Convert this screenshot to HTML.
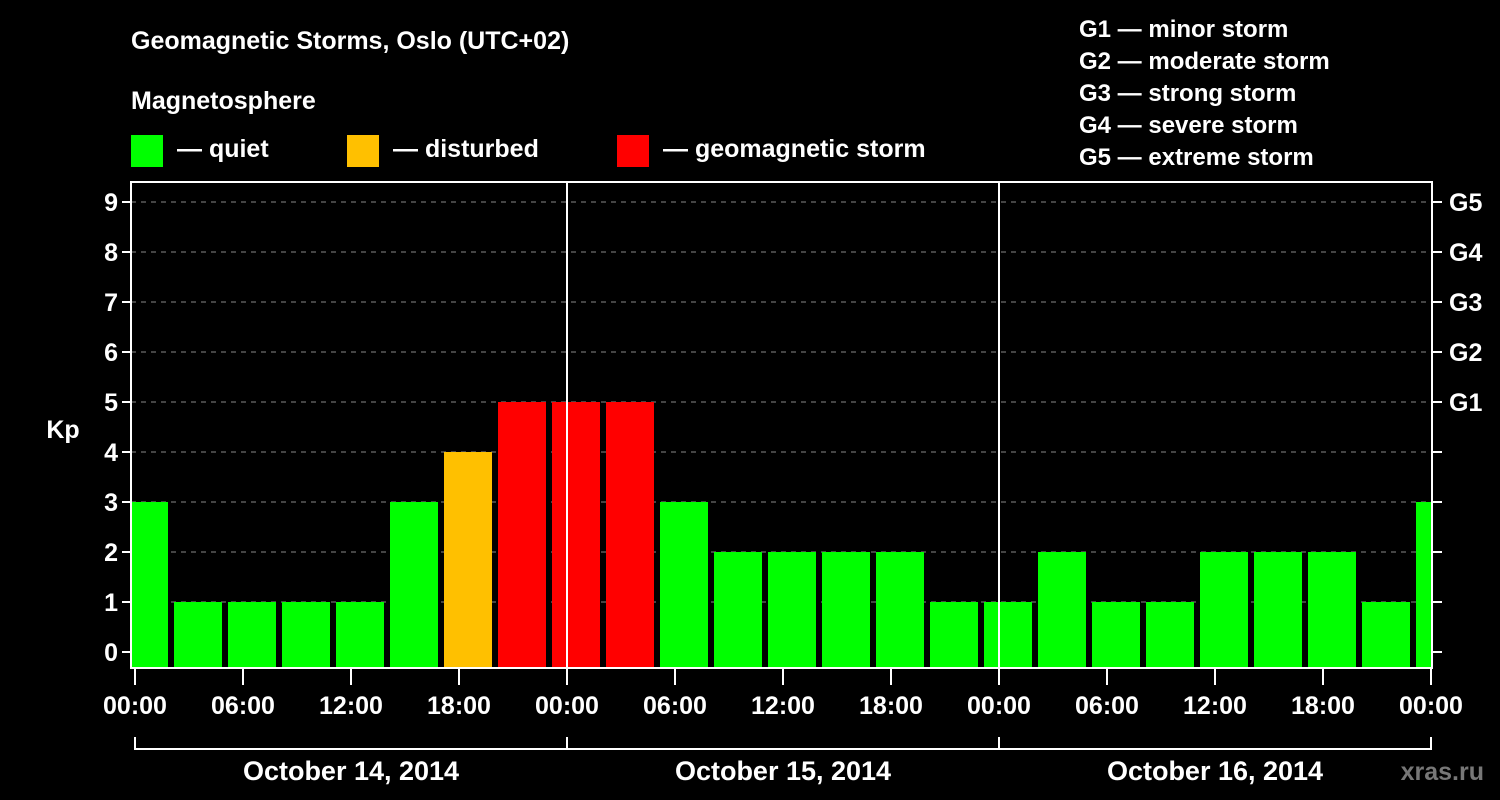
<!DOCTYPE html>
<html><head><meta charset="utf-8"><style>
html,body{margin:0;padding:0;background:#000;}
svg{display:block;font-family:"Liberation Sans",Arial,sans-serif;font-weight:bold;}
</style></head><body>
<svg id="chart" width="1500" height="800" viewBox="0 0 1500 800">
<rect width="1500" height="800" fill="#000"/>
<text x="131" y="49" fill="#fff" font-size="25">Geomagnetic Storms, Oslo (UTC+02)</text>
<text x="131" y="109" fill="#fff" font-size="25">Magnetosphere</text>
<g>
<rect x="131" y="135" width="32" height="32" fill="#00ff00"/>
<text x="177" y="157" fill="#fff" font-size="25">— quiet</text>
<rect x="347" y="135" width="32" height="32" fill="#ffc000"/>
<text x="393" y="157" fill="#fff" font-size="25">— disturbed</text>
<rect x="617" y="135" width="32" height="32" fill="#ff0000"/>
<text x="663" y="157" fill="#fff" font-size="25">— geomagnetic storm</text>
</g>
<g fill="#fff" font-size="24">
<text x="1079" y="37">G1 — minor storm</text>
<text x="1079" y="69">G2 — moderate storm</text>
<text x="1079" y="101">G3 — strong storm</text>
<text x="1079" y="133">G4 — severe storm</text>
<text x="1079" y="165">G5 — extreme storm</text>
</g>
<g id="grid"></g>
<g id="bars"></g>
<g id="axes"></g>
<text x="63" y="438" fill="#fff" font-size="25" text-anchor="middle">Kp</text>
<text x="1484" y="780" fill="#777" font-size="25" text-anchor="end">xras.ru</text>
</svg>
<script>
const kpValues = [3,1,1,1,1,3,4,5,5,5,3,2,2,2,2,1,1,2,1,1,2,2,2,1,3];
const yTicks = [0,1,2,3,4,5,6,7,8,9];
const gLabels = ["G1","G2","G3","G4","G5"];
const timeLabels = ["00:00","06:00","12:00","18:00","00:00","06:00","12:00","18:00","00:00","06:00","12:00","18:00","00:00"];
const dayLabels = ["October 14, 2014","October 15, 2014","October 16, 2014"];
const NS="http://www.w3.org/2000/svg";
const L=131,R=1432,T=182,B=668,X0=135,PXH=18;
const x=h=>X0+h*PXH, y=k=>652-50*k;
function mk(tag,attrs,parent){const e=document.createElementNS(NS,tag);for(const k in attrs)e.setAttribute(k,attrs[k]);parent.appendChild(e);return e;}
const grid=document.getElementById('grid'),bars=document.getElementById('bars'),axes=document.getElementById('axes');
// clip
const defs=mk('defs',{},document.getElementById('chart'));
const cp=mk('clipPath',{id:'pc'},defs);mk('rect',{x:L+1,y:T,width:R-L-2,height:B-T},cp);
bars.setAttribute('clip-path','url(#pc)');
yTicks.forEach(k=>{
  if(k>0){const g=mk('line',{x1:L,x2:R,y1:y(k),y2:y(k),stroke:'#888','stroke-width':1,'stroke-dasharray':'5,5'},grid);
  }
  mk('line',{x1:L-9,x2:L,y1:y(k),y2:y(k),stroke:'#fff','stroke-width':2},axes);
  mk('line',{x1:R,x2:R+10,y1:y(k),y2:y(k),stroke:'#fff','stroke-width':2},axes);
  const t=mk('text',{x:L-13,y:y(k)+9,fill:'#fff','font-size':25,'text-anchor':'end'},axes);t.textContent=k;
  
});
gLabels.forEach((g,i)=>{const t=mk('text',{x:R+17,y:y(5+i)+9,fill:'#fff','font-size':25},axes);t.textContent=g;
  });
kpValues.forEach((v,i)=>{
  const c=x(0.5+3*i);const col=v>=5?'#ff0000':(v>=4?'#ffc000':'#00ff00');
  const r=mk('rect',{x:c-24,y:y(v),width:48,height:B-y(v),fill:col},bars);
  
});
// day separators
[1,2].forEach(d=>{mk('line',{x1:x(24*d),x2:x(24*d),y1:T,y2:B,stroke:'#fff','stroke-width':2},axes);});
const f=mk('rect',{x:L,y:T,width:R-L,height:B-T,fill:'none',stroke:'#fff','stroke-width':2},axes);

timeLabels.forEach((s,i)=>{const px=x(6*i);
  mk('line',{x1:px,x2:px,y1:B,y2:B+17,stroke:'#fff','stroke-width':2},axes);
  const t=mk('text',{x:px,y:714,fill:'#fff','font-size':25,'text-anchor':'middle'},axes);t.textContent=s;
  });
mk('line',{x1:X0,x2:x(72),y1:749,y2:749,stroke:'#fff','stroke-width':2},axes);
[0,1,2,3].forEach(d=>mk('line',{x1:x(24*d),x2:x(24*d),y1:737,y2:750,stroke:'#fff','stroke-width':2},axes));
dayLabels.forEach((s,i)=>{const t=mk('text',{x:x(24*i+12),y:780,fill:'#fff','font-size':27,'text-anchor':'middle'},axes);t.textContent=s;
  });
</script>
</body></html>
